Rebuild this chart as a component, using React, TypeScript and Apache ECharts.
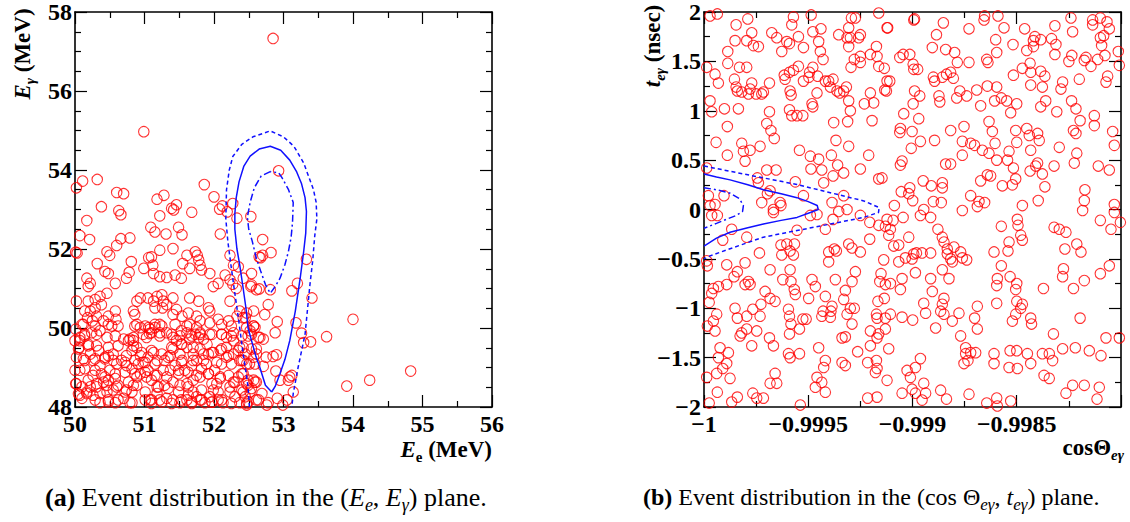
import React, { useEffect, useRef } from "react";
import * as echarts from "echarts";

// ---------- Data: (E_e, E_gamma) plane ----------
const leftEvents: number[][] = [
  [50.99,54.97],[50.02,53.55],[50.11,53.72],[50.32,53.76],[50.60,53.43],[50.70,53.40],[50.38,53.07],[50.63,52.97],[50.66,52.87],[51.18,53.26],[51.28,53.36],[51.22,52.84],[51.39,53.03],[51.46,53.12],[51.42,52.99],[51.68,52.93],[51.86,53.63],[52.00,53.32],[52.12,53.09],[52.08,53.01],[52.27,53.15],[52.19,52.94],[52.33,52.78],[52.53,52.82],[50.17,52.72],[52.85,57.33],[52.93,53.98],
  [50.07,52.34],[50.21,52.24],[50.01,51.92],[50.03,51.90],[51.09,52.55],[51.15,52.43],[51.31,52.38],[51.49,52.55],[51.54,52.36],[50.79,52.28],[50.66,52.26],[50.60,52.09],[50.46,51.93],[50.50,51.84],[50.32,51.63],[50.43,51.43],[50.48,51.38],[50.17,51.26],[50.22,51.13],[50.19,51.05],[50.58,51.13],[50.74,51.26],[50.78,51.41],[50.81,51.68],[51.22,51.97],[51.41,52.01],[51.10,51.80],[51.06,51.78],[51.12,51.59],[50.99,51.51],[51.13,51.38],[51.22,51.30],[51.32,51.28],[51.44,51.34],[51.55,51.63],[51.61,51.84],[51.76,51.84],[51.73,51.93],[51.78,51.72],[51.80,51.59],[51.82,51.47],[51.65,51.51],[51.53,51.26],[51.94,51.38],[52.06,51.13],[51.99,51.05],[52.16,51.34],[52.23,51.22],[52.27,51.11],[52.32,51.00],[52.35,51.55],[52.28,51.59],[52.09,52.38],[52.23,51.84],[52.54,51.38],[52.54,51.09],[52.61,50.97],[52.65,51.80],
  [50.02,50.68],[50.19,50.68],[50.29,50.72],[50.36,50.80],[50.46,50.88],[50.38,50.59],[50.14,50.43],[50.22,50.43],[50.29,50.51],[50.31,50.30],[50.18,50.26],[50.12,50.09],[50.25,50.18],[50.41,50.18],[50.48,50.30],[50.58,50.43],[50.59,50.22],[50.53,50.05],[50.36,49.93],[50.24,49.88],[50.14,49.80],[50.07,49.76],[50.01,49.97],[50.86,50.34],[50.84,50.43],[50.89,50.68],[50.94,50.76],[51.05,50.76],[51.13,50.68],[51.18,50.80],[51.25,50.84],[51.27,50.68],[51.26,50.51],[51.15,50.51],[51.32,50.59],[51.41,50.76],[51.46,50.47],[51.41,50.34],[51.54,50.30],[51.63,50.38],[51.65,50.76],[51.78,50.68],[51.75,50.30],[51.80,50.18],[51.61,50.05],[51.92,50.51],[51.94,50.43],[52.06,50.22],[52.23,50.68],[52.33,50.30],[52.37,50.43],[52.45,50.26],[52.21,50.18],[50.86,50.05],[50.94,50.01],[51.01,50.05],[51.08,49.97],[51.15,50.01],[51.22,50.09],[51.07,49.86],[51.03,49.76],[51.22,49.88],[51.32,49.88],[51.41,49.76],[51.51,49.80],[51.61,49.88],[51.73,49.84],[51.80,49.88],[51.78,49.76],[51.65,49.72],[51.85,49.72],[51.94,49.84],[52.11,49.84],[52.18,49.76],[52.28,49.88],[52.40,49.80],[52.47,50.01],[52.57,50.05],
  [50.00,49.68],[50.06,49.51],[50.19,49.59],[50.31,49.55],[50.22,49.34],[50.02,49.26],[50.14,49.18],[50.07,48.93],[50.29,49.22],[50.36,49.05],[50.43,49.22],[50.48,49.30],[50.55,49.34],[50.60,49.09],[50.50,48.93],[50.38,48.84],[50.26,48.80],[50.19,48.68],[50.10,48.51],[50.01,48.59],[50.22,48.51],[50.31,48.59],[50.41,48.63],[50.48,48.68],[50.58,48.72],[50.62,48.55],[50.55,48.43],[50.46,48.38],[50.36,48.34],[50.26,48.30],[50.17,48.34],[50.07,48.30],[50.05,48.33],[50.36,48.11],[50.48,48.18],[50.58,48.11],[50.70,48.22],[50.79,48.11],[50.72,48.38],[50.82,48.38],[50.77,48.63],[50.84,48.55],[50.89,48.76],[50.82,48.97],[50.74,49.05],[50.67,49.18],[50.74,49.30],[50.82,49.43],[50.84,49.68],[50.79,49.72],[50.89,49.51],[50.94,49.30],[50.98,49.13],[50.91,49.09],[51.05,49.26],[51.13,49.38],[51.15,49.09],[51.05,48.93],[51.03,48.76],[50.94,48.84],[51.10,48.68],[51.18,48.80],[51.27,48.93],[51.29,49.18],[51.37,49.30],[51.41,49.47],[51.46,49.68],[51.54,49.59],[51.61,49.51],[51.51,49.34],[51.54,49.18],[51.44,49.05],[51.37,48.93],[51.49,48.84],[51.58,48.93],[51.68,49.05],[51.75,49.18],[51.70,49.34],[51.80,49.47],[51.90,49.59],[51.92,49.34],[51.85,49.18],[51.82,48.97],[51.92,48.84],[51.80,48.76],[51.70,48.68],[51.61,48.59],[51.51,48.55],[51.41,48.63],[51.29,48.55],[51.20,48.51],[51.18,48.34],[51.08,48.18],[51.01,48.18],[51.10,48.09],[51.22,48.18],[51.32,48.22],[51.41,48.18],[51.51,48.11],[51.61,48.18],[51.63,48.30],[51.70,48.38],[51.75,48.26],[51.80,48.18],[51.87,48.11],[51.94,48.26],[51.99,48.43],[52.04,48.59],[52.09,48.72],[52.01,48.93],[52.11,49.09],[52.18,49.26],[52.28,49.34],[52.37,49.18],[52.47,49.09],[52.42,48.84],[52.35,48.76],[52.28,48.63],[52.23,48.38],[52.30,48.26],[52.37,48.11],[52.47,48.09],[52.49,48.55],[52.57,48.68],[52.13,48.11],[52.06,48.18],[51.68,48.09],[51.97,48.12],[52.18,49.51],[52.09,49.43],[51.99,49.38],[52.28,49.68],[52.37,49.51],[52.54,49.47],
  [52.70,52.24],[52.70,51.84],[52.67,51.78],[52.82,51.91],[53.33,51.74],[52.42,51.26],[52.53,51.05],[52.65,50.99],[52.81,50.97],[53.20,51.13],[53.12,50.94],[53.41,50.76],[52.78,50.59],[52.73,50.34],[52.57,50.43],[52.47,50.38],[52.42,50.26],[52.91,50.16],[53.18,50.13],[54.00,50.22],[52.59,50.01],[52.52,49.93],[52.49,49.80],[52.64,49.76],[52.71,49.72],[52.88,49.88],[53.26,49.87],[53.29,49.63],[53.39,49.65],[53.62,49.78],[52.42,49.51],[52.61,49.47],[52.57,49.26],[52.45,49.34],[52.75,49.26],[52.85,49.28],[52.90,49.32],[52.51,49.09],[52.71,49.03],[52.89,48.91],[52.95,48.68],[53.09,48.76],[53.12,48.80],[53.07,48.68],[53.14,48.38],[53.91,48.53],[54.24,48.68],[54.83,48.91],[52.47,48.59],[52.59,48.63],[52.54,48.47],[52.42,48.38],[52.69,48.34],[52.61,48.18],[52.78,48.11],[52.91,48.22],[53.05,48.18],[52.99,48.05],[52.76,48.05],[52.47,48.05],[52.45,48.26],[52.40,48.84],[52.42,49.18],
  [50.10,50.09],[50.29,50.05],[50.48,50.09],[50.62,50.05],[50.89,50.09],[51.06,50.01],[51.15,50.09],[51.25,50.05],[51.44,50.09],[51.65,50.09],[51.75,50.01],[51.94,50.13],[52.11,50.09],[52.25,50.05],[52.57,50.05],
  [50.14,49.84],[50.07,49.68],[50.31,49.84],[50.46,49.76],[50.58,49.80],[50.70,49.72],[50.84,49.76],[50.98,49.84],[51.10,49.88],[51.22,49.80],[51.39,49.84],[51.53,49.93],[51.68,49.80],[51.80,49.84],[51.97,49.84],[52.11,49.84],[52.25,49.80],[52.54,49.84],[52.66,49.76],
  [50.05,49.47],[50.19,49.55],[50.34,49.43],[50.48,49.51],[50.62,49.55],[50.77,49.68],[50.84,49.55],[50.96,49.38],[51.10,49.43],[51.25,49.34],[51.39,49.51],[51.53,49.59],[51.70,49.51],[51.85,49.34],[51.97,49.38],[52.11,49.47],[52.21,49.30],[52.35,49.43],[52.61,49.34],
  [50.12,49.22],[50.26,49.18],[50.43,49.26],[50.55,49.18],[50.72,49.13],[50.86,49.18],[51.01,49.13],[51.18,49.18],[51.34,49.26],[51.53,49.13],[51.70,49.18],[51.89,49.09],[52.04,49.13],[52.25,49.09],[52.40,49.18],[52.59,49.09],
  [50.00,48.93],[50.14,48.97],[50.29,48.93],[50.43,48.76],[50.58,48.84],[50.72,48.88],[50.86,48.84],[51.01,48.88],[51.15,48.80],[51.32,48.76],[51.49,48.93],[51.63,48.88],[51.75,48.80],[51.92,48.84],[52.09,48.76],[52.21,48.80],[52.30,48.63],[52.49,48.68],[52.61,48.63],
  [50.02,48.59],[50.17,48.38],[50.31,48.51],[50.46,48.55],[50.60,48.51],[50.74,48.43],[50.89,48.55],[51.01,48.38],[51.18,48.51],[51.34,48.47],[51.49,48.38],[51.63,48.51],[51.82,48.43],[51.97,48.59],[52.06,48.38],[52.23,48.51],[52.40,48.43],[52.52,48.38],
  [50.10,48.22],[50.29,48.18],[50.48,48.13],[50.62,48.18],[50.82,48.11],[51.10,48.18],[51.25,48.13],[51.39,48.09],[51.53,48.18],[51.68,48.13],[51.82,48.18],[51.97,48.13],[52.11,48.18],[52.25,48.09],[52.49,48.13],[52.64,48.18]
];

const leftContourSolid: number[][] = [
  [52.83,48.38],[52.74,48.55],[52.66,49.0],[52.60,49.3],[52.54,49.68],[52.49,50.0],[52.46,50.5],[52.42,51.0],[52.37,51.6],[52.33,52.0],[52.30,52.5],[52.30,52.9],[52.32,53.3],[52.36,53.7],[52.43,54.1],[52.52,54.35],[52.65,54.53],[52.81,54.6],[52.96,54.5],[53.09,54.25],[53.19,53.95],[53.26,53.65],[53.31,53.3],[53.33,52.95],[53.32,52.4],[53.29,51.93],[53.24,51.26],[53.17,50.43],[53.09,49.68],[53.02,49.2],[52.95,48.85],[52.88,48.52],[52.83,48.38]
];
const leftContourOuter: number[][] = [
  [52.51,48.0],[52.49,48.51],[52.45,49.0],[52.42,49.34],[52.37,50.0],[52.33,50.51],[52.29,51.0],[52.25,51.51],[52.20,52.18],[52.17,52.76],[52.18,53.5],[52.22,54.0],[52.27,54.34],[52.40,54.65],[52.56,54.84],[52.81,54.99],[53.0,54.84],[53.15,54.6],[53.29,54.18],[53.43,53.51],[53.47,53.18],[53.48,52.76],[53.45,52.34],[53.42,51.7],[53.38,51.09],[53.31,49.84],[53.21,49.0],[53.14,48.34],[53.12,48.0]
];
const leftContourInner: number[][] = [
  [52.81,53.96],[52.68,53.85],[52.58,53.55],[52.52,53.18],[52.48,52.8],[52.50,52.5],[52.55,52.2],[52.61,51.76],[52.67,51.45],[52.74,51.1],[52.81,50.88],[52.88,51.05],[52.95,51.26],[53.02,51.6],[53.07,51.93],[53.11,52.3],[53.13,52.68],[53.14,53.18],[53.07,53.51],[52.98,53.8],[52.93,53.93],[52.81,53.96]
];

// ---------- Data: (cos Theta, t) plane ----------
const rightEvents: number[][] = [
  [-0.999971,1.96],[-0.999936,1.98],[-0.999846,1.87],[-0.99979,1.93],[-0.999771,1.79],[-0.999851,1.71],[-0.999795,1.71],[-0.999763,1.66],[-0.999739,1.65],[-0.999886,1.60],[-0.999886,1.48],[-0.999987,1.44],[-0.999947,1.37],[-0.999931,1.28],[-0.99983,1.44],[-0.999795,1.44],[-0.999854,1.32],[-0.999846,1.24],[-0.999819,1.19],[-0.99984,1.20],[-0.999787,1.17],[-0.999771,1.28],[-0.999779,1.22],[-0.99975,1.17],[-0.999723,1.17],[-0.999715,1.19],[-0.999686,1.28],[-0.999971,1.10],[-0.999963,0.99],[-0.999902,1.02],[-0.999835,1.02],[-0.999888,0.84],[-0.999942,0.68],[-0.999888,0.55],[-0.999811,0.59],[-0.999819,0.67],[-0.999779,0.60],[-0.999803,0.49],[-0.999731,0.64],[-0.999686,0.99],[-0.999699,0.87],[-0.999679,0.80],[-0.999663,0.72],[-0.999675,1.79],[-0.999651,1.74],[-0.999627,1.60],[-0.999603,1.70],[-0.999571,1.95],[-0.999579,1.87],[-0.999547,1.75],[-0.99959,1.68],[-0.999615,1.36],[-0.99959,1.39],[-0.999571,1.41],[-0.999611,1.32],[-0.999547,1.45],[-0.999523,1.30],[-0.999497,1.34],[-0.999478,1.44],[-0.999494,1.39],[-0.999455,1.35],[-0.999478,1.80],[-0.999486,1.97],[-0.99945,1.70],[-0.999439,1.83],[-0.999442,1.60],[-0.999429,1.52],[-0.999523,1.64],[-0.999587,1.20],[-0.999582,1.16],[-0.99959,1.01],[-0.999579,0.95],[-0.999554,0.95],[-0.999526,0.95],[-0.999482,1.07],[-0.999478,1.04],[-0.999542,0.60],[-0.99949,0.54],[-0.99945,0.51],[-0.999487,0.41],[-0.999562,0.28],[-0.999435,0.40],[-0.999426,0.27],[-0.999418,1.30],[-0.999402,1.30],[-0.999394,1.24],[-0.999381,1.32],[-0.999362,1.20],[-0.99933,1.20],[-0.999317,1.24],[-0.999349,1.18],[-0.999458,1.18],[-0.999378,0.88],[-0.999367,0.70],[-0.999311,0.89],[-0.999306,1.10],[-0.999298,1.00],[-0.999306,0.64],[-0.999389,0.55],[-0.999359,0.45],[-0.999381,0.34],[-0.99933,0.37],[-0.99925,0.41],[-0.99921,0.55],[-0.999194,0.90],[-0.999202,1.18],[-0.999186,1.08],[-0.999231,1.07],[-0.999295,1.44],[-0.999279,1.52],[-0.99925,1.49],[-0.99925,1.55],[-0.999202,1.57],[-0.99917,1.55],[-0.999173,1.65],[-0.999162,1.45],[-0.999135,1.43],[-0.999122,1.30],[-0.999133,1.21],[-0.999314,1.74],[-0.999298,1.74],[-0.999258,1.74],[-0.99925,1.77],[-0.999306,1.84],[-0.999293,1.94],[-0.999274,1.94],[-0.999306,1.65],[-0.999354,1.77],[-0.999162,1.99],[-0.999122,1.84],[-0.999162,0.31],[-0.99933,0.14],[-0.999386,0.07],[-0.999523,0.14],[-0.999635,0.07],[-0.999667,0.00],[-0.999723,0.07],[-0.999683,0.19],[-0.999696,0.16],[-0.999739,0.27],[-0.999699,0.40],[-0.999654,0.40],[-0.999744,0.32],[-0.999979,0.14],[-0.999971,0.04],[-0.999947,0.05],[-0.999904,0.14],[-0.999963,-0.06],[-0.999936,-0.06],[-0.999987,0.42],
  [-0.999867,-0.20],[-0.99991,-0.31],[-0.999795,-0.28],[-0.999734,-0.44],[-0.999631,-0.36],[-0.999603,-0.35],[-0.999566,-0.35],[-0.999627,-0.46],[-0.999571,-0.46],[-0.999554,-0.21],[-0.999587,-0.42],[-0.999667,-0.03],[-0.999631,0.04],[-0.99949,-0.06],[-0.999458,-0.05],[-0.999418,-0.20],[-0.999381,-0.10],[-0.999354,-0.02],[-0.999314,0.00],[-0.99925,-0.06],[-0.999205,-0.13],[-0.999162,-0.16],[-0.999122,-0.10],[-0.999106,-0.20],[-0.999205,-0.30],[-0.99925,-0.43],[-0.99929,-0.39],[-0.999306,-0.35],[-0.999375,-0.40],[-0.999402,-0.43],[-0.999402,-0.53],[-0.999365,-0.42],[-0.999987,-0.52],[-0.999984,-0.57],[-0.999891,-0.56],[-0.999803,-0.54],[-0.99984,-0.63],[-0.999856,-0.68],[-0.999787,-0.73],[-0.999779,-0.76],[-0.999803,-0.76],[-0.999891,-0.76],[-0.999931,-0.78],[-0.999955,-0.80],[-0.999963,-0.85],[-0.999975,-0.94],[-0.999707,-0.83],[-0.999683,-0.90],[-0.999659,-0.93],[-0.999683,-0.61],[-0.999622,-0.71],[-0.999567,-0.81],[-0.999562,-0.86],[-0.999583,-0.73],[-0.999587,-0.61],[-0.999482,-0.71],[-0.999466,-0.78],[-0.999418,-0.88],[-0.999498,-0.90],[-0.99937,-0.71],[-0.999322,-0.82],[-0.999274,-0.63],[-0.99929,-0.73],[-0.99933,-0.91],[-0.999298,-1.00],[-0.999279,-1.00],[-0.999314,-1.06],[-0.99929,-1.16],[-0.999391,-1.03],[-0.999429,-1.03],[-0.999386,-0.98],[-0.999435,-1.08],[-0.999394,-1.09],[-0.999939,-1.06],[-0.999955,-1.13],[-0.999984,-1.18],[-0.999947,-1.23],[-0.999851,-1.00],[-0.99984,-1.10],[-0.999795,-1.08],[-0.999766,-1.01],[-0.999731,-1.08],[-0.999727,-0.96],[-0.999819,-1.25],[-0.999827,-1.28],[-0.999795,-1.21],[-0.999747,-1.23],[-0.999771,-1.38],[-0.999686,-1.30],[-0.999667,-1.38],[-0.999595,-1.01],[-0.99959,-1.08],[-0.999583,-1.16],[-0.999526,-1.11],[-0.99951,-1.11],[-0.999542,-1.21],[-0.99959,-1.26],[-0.99945,-1.40],[-0.999338,-1.30],[-0.999322,-1.29],[-0.999923,-1.40],[-0.999883,-1.45],[-0.999931,-1.50],[-0.999891,-1.56],[-0.99991,-1.61],[-0.999875,-1.71],[-0.999939,-1.66],[-0.999987,-1.70],[-0.999936,-1.85],[-0.999975,-1.96],[-0.999867,-1.95],[-0.99984,-1.90],[-0.999766,-1.86],[-0.999747,-1.91],[-0.999715,-1.91],[-0.999683,-1.76],[-0.999651,-1.76],[-0.999659,-1.66],[-0.999595,-1.46],[-0.999587,-1.50],[-0.999542,-1.46],[-0.999538,-1.98],[-0.999418,-1.53],[-0.999426,-1.60],[-0.999458,-1.70],[-0.999435,-1.75],[-0.999466,-1.80],[-0.999418,-1.85],[-0.999338,-1.55],[-0.999322,-1.58],[-0.999263,-1.44],[-0.999215,-1.55],[-0.999215,-1.91],[-0.99917,-1.90],[-0.999173,-1.53],[-0.99917,-1.61],[-0.999178,-1.65],[-0.999202,-1.38],[-0.99917,-1.30],[-0.999162,-1.26],[-0.999202,-1.23],[-0.999173,-1.06],[-0.99917,-1.10],[-0.999166,-0.93],[-0.999135,-0.90],[-0.999157,-0.73],[-0.99913,-0.76],[-0.999151,-0.65],[-0.999138,-0.51],[-0.999122,-1.73],[-0.999114,-1.41],[-0.99913,-1.21],
  [-0.999119,1.84],[-0.998994,1.92],[-0.99899,1.93],[-0.998852,1.89],[-0.998885,1.77],[-0.998729,1.83],[-0.998654,1.96],[-0.998657,1.92],[-0.99859,1.96],[-0.998561,1.84],[-0.998601,1.72],[-0.998596,1.59],[-0.998518,1.67],[-0.998462,1.83],[-0.998413,1.75],[-0.99842,1.71],[-0.998385,1.72],[-0.998452,1.61],[-0.99842,1.65],[-0.998333,1.73],[-0.998312,1.67],[-0.998317,1.57],[-0.998317,1.86],[-0.99824,1.94],[-0.998232,1.80],[-0.998136,1.92],[-0.998136,1.87],[-0.998099,1.94],[-0.998067,1.90],[-0.998056,1.83],[-0.998083,1.76],[-0.998099,1.74],[-0.998093,1.66],[-0.998077,1.56],[-0.998013,1.60],[-0.998008,1.46],[-0.998905,1.64],[-0.998841,1.62],[-0.998798,1.59],[-0.998785,1.49],[-0.998729,1.49],[-0.998644,1.52],[-0.998638,1.49],[-0.999061,1.54],[-0.999045,1.57],[-0.999013,1.57],[-0.998997,1.47],[-0.998994,1.42],[-0.998975,1.42],[-0.999109,1.30],[-0.999125,1.20],[-0.9989,1.34],[-0.998894,1.30],[-0.998857,1.34],[-0.998837,1.37],[-0.998817,1.39],[-0.998804,1.33],[-0.99899,1.20],[-0.998965,1.15],[-0.998873,1.15],[-0.998869,1.09],[-0.998788,1.13],[-0.998773,1.20],[-0.99874,1.15],[-0.998692,1.21],[-0.998641,1.25],[-0.998596,1.24],[-0.998606,1.10],[-0.998574,1.13],[-0.998548,1.10],[-0.998673,1.05],[-0.998529,0.98],[-0.9985,1.07],[-0.998516,1.36],[-0.998473,1.43],[-0.998433,1.39],[-0.998436,1.48],[-0.998385,1.40],[-0.998365,1.35],[-0.998433,1.26],[-0.998377,1.24],[-0.998361,1.10],[-0.998385,1.04],[-0.998308,0.99],[-0.99828,1.29],[-0.998288,1.22],[-0.99825,1.50],[-0.998236,1.56],[-0.998176,1.51],[-0.998168,1.54],[-0.998144,1.45],[-0.998112,1.52],[-0.9982,1.32],[-0.998072,1.29],[-0.998064,1.35],[-0.998237,1.10],[-0.998216,1.02],[-0.998128,0.95],[-0.998128,0.85],[-0.998196,0.90],[-0.998228,0.80],[-0.998216,0.77],[-0.998212,0.57],[-0.998224,0.47],[-0.99804,0.79],[-0.998032,0.65],[-0.998109,0.44],[-0.998056,0.40],[-0.998321,0.44],[-0.998296,0.63],[-0.999042,0.97],[-0.998997,1.07],[-0.99897,0.92],[-0.999058,0.82],[-0.999061,0.78],[-0.999002,0.79],[-0.998962,0.69],[-0.999006,0.62],[-0.99905,0.49],[-0.999058,0.45],[-0.998894,0.70],[-0.998817,0.80],[-0.998753,0.84],[-0.998761,0.69],[-0.998721,0.67],[-0.998702,0.65],[-0.998665,0.60],[-0.998633,0.57],[-0.998633,0.89],[-0.998617,0.79],[-0.998604,0.67],[-0.998596,0.50],[-0.998761,0.55],[-0.998537,0.59],[-0.998544,0.50],[-0.998505,0.80],[-0.9985,0.68],[-0.998452,0.82],[-0.99844,0.75],[-0.9984,0.77],[-0.998392,0.70],[-0.998433,0.60],[-0.9984,0.47],[-0.998409,0.44],[-0.998436,0.39],[-0.998377,0.36],[-0.998516,0.42],[-0.998505,0.31],[-0.998521,0.25],[-0.998569,0.24],[-0.998625,0.34],[-0.998641,0.35],[-0.998673,0.29],[-0.998841,0.46],[-0.998817,0.46],[-0.998949,0.29],[-0.99891,0.24],[-0.998857,0.27],[-0.998857,0.22],[-0.999013,0.22],[-0.999054,0.18],[-0.999018,0.16],[-0.998999,0.09],[-0.999087,0.04],[-0.999146,0.32],[-0.998946,0.00],[-0.9989,0.08],[-0.998862,0.07],[-0.998721,0.14],[-0.998681,0.08],[-0.998654,0.07],[-0.998689,0.03],[-0.998761,-0.01],[-0.998473,0.04],[-0.998397,0.09],[-0.998365,0.23],[-0.998173,0.20],[-0.998176,0.09],[-0.998184,-0.01],[-0.998032,0.05],
  [-0.998962,-0.06],[-0.998913,-0.08],[-0.999045,-0.08],[-0.999093,-0.11],[-0.998878,-0.20],[-0.99913,-0.17],[-0.999114,-0.26],[-0.999018,-0.28],[-0.99909,-0.37],[-0.999066,-0.36],[-0.999066,-0.53],[-0.999034,-0.49],[-0.998994,-0.45],[-0.999002,-0.50],[-0.998981,-0.44],[-0.998954,-0.44],[-0.998913,-0.44],[-0.998857,-0.28],[-0.998849,-0.33],[-0.998833,-0.40],[-0.998801,-0.38],[-0.998769,-0.43],[-0.998833,-0.45],[-0.998817,-0.50],[-0.998809,-0.53],[-0.998761,-0.49],[-0.99874,-0.51],[-0.998857,-0.61],[-0.998825,-0.70],[-0.998986,-0.64],[-0.99905,-0.70],[-0.999106,-0.75],[-0.999058,-0.81],[-0.998913,-0.70],[-0.998905,-0.83],[-0.998849,-0.90],[-0.998857,-0.96],[-0.998865,-1.03],[-0.998946,-0.95],[-0.998937,-1.05],[-0.998849,-1.06],[-0.998809,-1.13],[-0.998777,-1.05],[-0.998999,-1.12],[-0.99905,-1.09],[-0.999106,-1.06],[-0.99913,-1.10],[-0.998889,-1.20],[-0.998769,-1.28],[-0.998689,-0.98],[-0.998702,-1.10],[-0.998689,-1.21],[-0.998609,-0.43],[-0.998593,-0.70],[-0.998596,-0.77],[-0.998574,-0.57],[-0.998532,-0.68],[-0.9985,-0.75],[-0.998505,-0.81],[-0.9985,-0.93],[-0.998473,-0.96],[-0.998481,-1.00],[-0.998505,-1.06],[-0.998521,-1.13],[-0.998596,-0.95],[-0.998537,-0.33],[-0.998542,-0.42],[-0.998481,-0.26],[-0.998473,-0.31],[-0.998494,-0.16],[-0.998574,-0.17],[-0.998497,-0.10],[-0.998433,-1.10],[-0.998429,-1.16],[-0.998449,-1.46],[-0.998433,-1.56],[-0.9985,-1.43],[-0.998532,-1.43],[-0.998537,-1.60],[-0.998497,-1.61],[-0.998609,-1.46],[-0.998609,-1.56],[-0.998745,-1.40],[-0.998745,-1.46],[-0.998721,-1.45],[-0.998697,-1.45],[-0.998734,-1.53],[-0.998753,-1.56],[-0.998962,-1.51],[-0.998986,-1.60],[-0.999026,-1.63],[-0.99901,-1.70],[-0.998946,-1.76],[-0.998937,-1.86],[-0.998986,-1.86],[-0.99905,-1.86],[-0.999002,-1.82],[-0.998954,-1.93],[-0.998865,-1.83],[-0.998837,-1.92],[-0.998729,-1.87],[-0.998644,-1.96],[-0.998596,-1.91],[-0.998593,-1.99],[-0.998529,-1.94],[-0.998372,-0.80],[-0.998324,-1.26],[-0.998276,-0.60],[-0.99828,-0.68],[-0.998228,-0.80],[-0.998196,-1.10],[-0.998176,-0.72],[-0.998321,-0.18],[-0.998296,-0.20],[-0.998264,-0.23],[-0.998212,-0.35],[-0.998192,-0.43],[-0.998269,-0.40],[-0.998099,-0.65],[-0.998056,-0.57],[-0.998099,-0.11],[-0.998048,-0.20],[-0.998032,-0.03],[-0.998003,-0.13],[-0.998008,-1.30],[-0.998072,-1.30],[-0.998096,-1.48],[-0.998152,-1.43],[-0.998219,-1.40],[-0.99828,-1.41],[-0.998377,-1.46],[-0.998344,-1.46],[-0.998328,-1.53],[-0.998369,-1.68],[-0.998344,-1.71],[-0.998232,-1.78],[-0.998264,-1.86],[-0.998176,-1.78],[-0.998104,-1.80],[-0.998115,-1.92]
];

const rightContourSolid: number[][] = [
  [-1,0.36],[-0.99994,0.33],[-0.999875,0.30],[-0.99979,0.25],[-0.999715,0.20],[-0.99963,0.16],[-0.999554,0.12],[-0.9995,0.08],[-0.999457,0.04],[-0.999452,0.0],[-0.99949,-0.03],[-0.999554,-0.08],[-0.99963,-0.11],[-0.999715,-0.147],[-0.99979,-0.185],[-0.999875,-0.23],[-0.99994,-0.29],[-1,-0.37]
];
const rightContourOuter: number[][] = [
  [-1,0.44],[-0.999875,0.387],[-0.999715,0.32],[-0.999554,0.253],[-0.999394,0.17],[-0.999234,0.087],[-0.99916,0.02],[-0.999163,-0.03],[-0.999234,-0.08],[-0.999394,-0.147],[-0.999554,-0.213],[-0.999715,-0.28],[-0.999875,-0.397],[-0.999971,-0.47],[-1,-0.50]
];
const rightContourInner: number[][] = [
  [-1,0.22],[-0.99994,0.2],[-0.999875,0.165],[-0.99983,0.11],[-0.999811,0.04],[-0.999815,-0.02],[-0.999845,-0.06],[-0.999875,-0.085],[-0.99994,-0.14],[-1,-0.19]
];

// ---------- Axis ranges / captions ----------
const leftXRange = [50, 56, 1];
const leftYRange = [48, 58, 2];
const rightXRange = [-1, -0.998, 0.0005];
const rightYRange = [-2, 2, 0.5];
const captionA = "{b|(a)}{n| Event distribution in the }{n|(}{i|E}{si|e}{n|, }{i|E}{si|γ}{n|) plane.}";
const captionB = "{b|(b)}{n| Event distribution in the }{n|(cos Θ}{si|eγ}{n|, }{i|t}{si|eγ}{n|) plane.}";

const SERIF = "'Liberation Serif', 'Times New Roman', Times, serif";
const MINUS = "\u2212";

function fmtSigned(v: number) {
  const a = parseFloat(Math.abs(v).toFixed(6));
  return (v < 0 ? MINUS : "") + String(a);
}

function makeAxis(
  grid: number,
  position: string,
  range: number[],
  minorSplit: number,
  showLabel: boolean,
  extraLabel: any = {}
) {
  const isX = position === "bottom" || position === "top";
  return {
    type: "value",
    gridIndex: grid,
    position,
    min: range[0],
    max: range[1],
    interval: range[2],
    axisLine: { show: true, onZero: false, lineStyle: { color: "#000", width: 1.6 } },
    axisTick: { show: true, inside: true, length: 12, lineStyle: { color: "#000", width: 1.2 } },
    minorTick: { show: true, splitNumber: minorSplit, length: 6, lineStyle: { color: "#000", width: 1.2 } },
    splitLine: { show: false },
    minorSplitLine: { show: false },
    axisLabel: {
      show: showLabel,
      color: "#000",
      fontFamily: SERIF,
      fontWeight: "bold",
      fontSize: 24,
      margin: isX ? 5 : 3,
      formatter: fmtSigned,
      ...extraLabel,
    },
  };
}

const markerStyle = { color: "rgba(255,255,255,0)", borderColor: "#ff0000", borderWidth: 1.1 };
const blue = "#1010ff";

function contour(data: number[][], xi: number, yi: number, type: any) {
  return {
    type: "line",
    xAxisIndex: xi,
    yAxisIndex: yi,
    data,
    symbol: "none",
    showSymbol: false,
    silent: true,
    z: 3,
    lineStyle: { color: blue, width: 1.5, type },
  };
}

const richBase = (size: number) => ({
  n: { fontFamily: SERIF, fontSize: size, fontWeight: "bold", color: "#000", lineHeight: size + 8, verticalAlign: "middle" },
  i: { fontFamily: SERIF, fontSize: size, fontWeight: "bold", fontStyle: "italic", color: "#000", lineHeight: size + 8, verticalAlign: "middle" },
  s: { fontFamily: SERIF, fontSize: Math.round(size * 0.65), fontWeight: "bold", color: "#000", lineHeight: size + 8, verticalAlign: "bottom" },
  si: { fontFamily: SERIF, fontSize: Math.round(size * 0.65), fontWeight: "bold", fontStyle: "italic", color: "#000", lineHeight: size + 8, verticalAlign: "bottom" },
});

const captionRich = (size: number) => ({
  n: { fontFamily: SERIF, fontSize: size, color: "#000", lineHeight: size + 8, verticalAlign: "middle" },
  b: { fontFamily: SERIF, fontSize: size, fontWeight: "bold", color: "#000", lineHeight: size + 8, verticalAlign: "middle" },
  i: { fontFamily: SERIF, fontSize: size, fontStyle: "italic", color: "#000", lineHeight: size + 8, verticalAlign: "middle" },
  si: { fontFamily: SERIF, fontSize: Math.round(size * 0.7), fontStyle: "italic", color: "#000", lineHeight: size + 8, verticalAlign: "bottom" },
});

export default function App() {
  const ref = useRef<HTMLDivElement>(null);
  useEffect(() => {
    if (!ref.current) return;
    const chart = echarts.init(ref.current, null, { renderer: "svg" });
    const option: any = {
      animation: false,
      backgroundColor: "#ffffff",
      grid: [
        { left: 75, top: 7, width: 417, height: 400 },
        { left: 704, top: 7, width: 417, height: 400 },
      ],
      xAxis: [
        makeAxis(0, "bottom", leftXRange, 2, true),
        makeAxis(0, "top", leftXRange, 2, false),
        makeAxis(1, "bottom", rightXRange, 2, true, { showMaxLabel: false, showMinLabel: true }),
        makeAxis(1, "top", rightXRange, 2, false),
      ],
      yAxis: [
        makeAxis(0, "left", leftYRange, 4, true),
        makeAxis(0, "right", leftYRange, 4, false),
        makeAxis(1, "left", rightYRange, 2, true),
        makeAxis(1, "right", rightYRange, 2, false),
      ],
      series: [
        {
          type: "scatter",
          xAxisIndex: 0,
          yAxisIndex: 0,
          data: leftEvents,
          symbol: "circle",
          symbolSize: 10.5,
          itemStyle: markerStyle,
          silent: true,
        },
        contour(leftContourSolid, 0, 0, "solid"),
        contour(leftContourOuter, 0, 0, [4, 3]),
        contour(leftContourInner, 0, 0, [7, 3, 2, 3]),
        {
          type: "scatter",
          xAxisIndex: 2,
          yAxisIndex: 2,
          data: rightEvents,
          symbol: "circle",
          symbolSize: 10.5,
          itemStyle: markerStyle,
          silent: true,
        },
        contour(rightContourSolid, 2, 2, "solid"),
        contour(rightContourOuter, 2, 2, [4, 3]),
        contour(rightContourInner, 2, 2, [7, 3, 2, 3]),
      ],
      graphic: [
        {
          type: "text",
          x: 22,
          y: 54,
          rotation: Math.PI / 2,
          style: { text: "{i|E}{si|γ}{n| (MeV)}", rich: richBase(23), align: "center", verticalAlign: "middle" },
        },
        {
          type: "text",
          x: 492,
          y: 449,
          style: { text: "{i|E}{s|e}{n| (MeV)}", rich: richBase(23), align: "right", verticalAlign: "middle" },
        },
        {
          type: "text",
          x: 652,
          y: 46,
          rotation: Math.PI / 2,
          style: { text: "{i|t}{si|eγ}{n| (nsec)}", rich: richBase(23), align: "center", verticalAlign: "middle" },
        },
        {
          type: "text",
          x: 1124,
          y: 447,
          style: { text: "{n|cosΘ}{si|eγ}", rich: richBase(23), align: "right", verticalAlign: "middle" },
        },
        {
          type: "text",
          x: 45,
          y: 497,
          style: { text: captionA, rich: captionRich(26), align: "left", verticalAlign: "middle" },
        },
        {
          type: "text",
          x: 643,
          y: 497,
          style: { text: captionB, rich: captionRich(24), align: "left", verticalAlign: "middle" },
        },
      ],
    };
    chart.setOption(option);
    return () => chart.dispose();
  }, []);
  return (
    <div
      ref={ref}
      style={{ position: "absolute", left: 0, top: 0, width: 1130, height: 522, background: "#fff" }}
    />
  );
}
